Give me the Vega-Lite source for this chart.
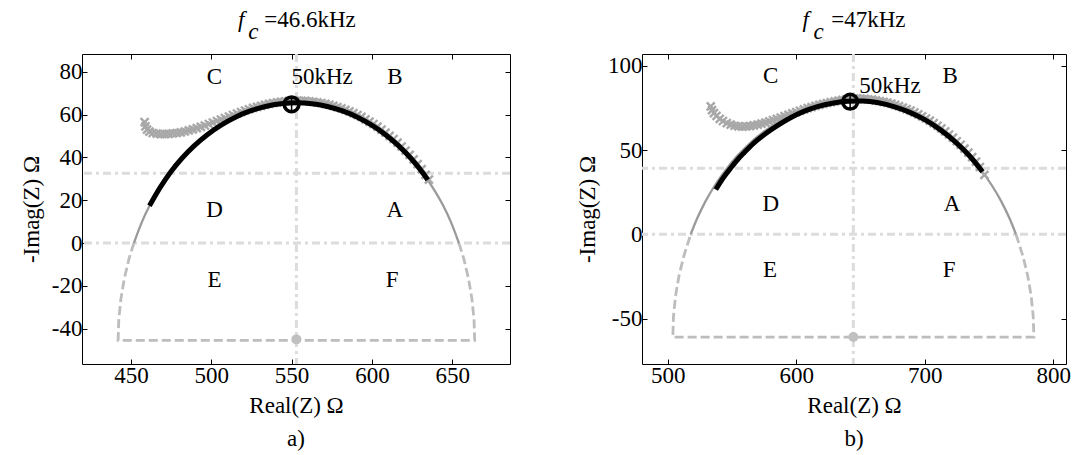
{
  "$schema": "https://vega.github.io/schema/vega-lite/v6.json",
  "padding": {"left": 19, "top": 8, "right": 5, "bottom": 5},
  "spacing": 64,
  "config": {
    "font": "Liberation Serif",
    "view": {"stroke": "black", "strokeWidth": 1},
    "axis": {"domain": false, "grid": false, "labelFont": "Liberation Serif", "labelFontSize": 23, "labelColor": "black", "titleFont": "Liberation Serif", "titleFontSize": 23, "titleFontWeight": "normal", "titleColor": "black", "tickColor": "black", "tickSize": -5, "tickWidth": 1, "labelPadding": 5},
    "title": {"font": "Liberation Serif", "fontSize": 23, "fontWeight": "normal", "color": "black", "orient": "bottom", "anchor": "middle", "frame": "group", "offset": 11},
    "text": {"font": "Liberation Serif", "fontSize": 23, "color": "black"}
  },
  "datasets": {
    "a_h": [{"y": 32.6}, {"y": 0}],
    "a_v": [{"x": 553}],
    "a_dash": [{"i":0,"x":654.2,"y":0},{"i":1,"x":657.3,"y":-7.5},{"i":2,"x":660.2,"y":-16.8},{"i":3,"x":662.3,"y":-26.2},{"i":4,"x":663.6,"y":-35.8},{"i":5,"x":664,"y":-45.5},{"i":6,"x":442,"y":-45.5},{"i":7,"x":442.4,"y":-35.8},{"i":8,"x":443.7,"y":-26.2},{"i":9,"x":445.8,"y":-16.8},{"i":10,"x":448.7,"y":-7.5},{"i":11,"x":451.8,"y":0}],
    "a_arc": [{"x":654.2,"y":0},{"x":649.1,"y":10.0},{"x":643.9,"y":18.2},{"x":638.0,"y":25.8},{"x":631.5,"y":33.0},{"x":624.4,"y":39.5},{"x":616.7,"y":45.4},{"x":608.5,"y":50.6},{"x":599.9,"y":55.1},{"x":591.0,"y":58.8},{"x":581.7,"y":61.7},{"x":572.3,"y":63.8},{"x":562.7,"y":65.1},{"x":553,"y":65.5},{"x":543.3,"y":65.1},{"x":533.7,"y":63.8},{"x":524.3,"y":61.7},{"x":515.0,"y":58.8},{"x":506.1,"y":55.1},{"x":497.5,"y":50.6},{"x":489.3,"y":45.4},{"x":481.6,"y":39.5},{"x":474.5,"y":33.0},{"x":468.0,"y":25.8},{"x":462.1,"y":18.2},{"x":456.9,"y":10.0},{"x":451.8,"y":0}],
    "a_black": [{"x":634.8,"y":29.5},{"x":631.5,"y":33.0},{"x":624.4,"y":39.5},{"x":616.7,"y":45.4},{"x":608.5,"y":50.6},{"x":599.9,"y":55.1},{"x":591.0,"y":58.8},{"x":581.7,"y":61.7},{"x":572.3,"y":63.8},{"x":562.7,"y":65.1},{"x":553,"y":65.5},{"x":543.3,"y":65.1},{"x":533.7,"y":63.8},{"x":524.3,"y":61.7},{"x":515.0,"y":58.8},{"x":506.1,"y":55.1},{"x":497.5,"y":50.6},{"x":489.3,"y":45.4},{"x":481.6,"y":39.5},{"x":474.5,"y":33.0},{"x":468.0,"y":25.8},{"x":461.5,"y":17.4}],
    "a_meas": [{"x":458.5,"y":56.5},{"x":459,"y":54.5},{"x":460,"y":53},{"x":461.5,"y":52},{"x":463.5,"y":51.4},{"x":466,"y":51.1},{"x":468.5,"y":50.9},{"x":471,"y":50.9},{"x":473.5,"y":51.0},{"x":476,"y":51.2},{"x":478.5,"y":51.4},{"x":481,"y":51.7},{"x":483.5,"y":52.1},{"x":486,"y":52.6},{"x":488.5,"y":53.1},{"x":491,"y":53.7},{"x":493.5,"y":54.3},{"x":496,"y":54.9},{"x":498.5,"y":55.6},{"x":501,"y":56.3},{"x":503.5,"y":57.0},{"x":506,"y":57.7},{"x":508.5,"y":58.4},{"x":511,"y":59.1},{"x":513.5,"y":59.8},{"x":516,"y":60.5},{"x":518.5,"y":61.2},{"x":521,"y":61.9},{"x":523.5,"y":62.5},{"x":526,"y":63.1},{"x":528.5,"y":63.6},{"x":531,"y":64.1},{"x":533.5,"y":64.6},{"x":536,"y":65.0},{"x":538.5,"y":65.4},{"x":541,"y":65.7},{"x":543.5,"y":66.0},{"x":546,"y":66.2},{"x":548.5,"y":66.4},{"x":551,"y":66.5},{"x":553.5,"y":66.5},{"x":556,"y":66.46},{"x":558.5,"y":66.36},{"x":561,"y":66.2},{"x":563.5,"y":66.0},{"x":566,"y":65.7},{"x":568.5,"y":65.4},{"x":571,"y":65.0},{"x":573.5,"y":64.6},{"x":576,"y":64.1},{"x":578.5,"y":63.5},{"x":581,"y":62.9},{"x":583.5,"y":62.2},{"x":586,"y":61.5},{"x":588.5,"y":60.7},{"x":591,"y":59.8},{"x":593.5,"y":58.9},{"x":596,"y":57.8},{"x":598.5,"y":56.7},{"x":601,"y":55.6},{"x":603.5,"y":54.4},{"x":606,"y":53.0},{"x":608.5,"y":51.6},{"x":611,"y":50.1},{"x":613.5,"y":48.6},{"x":616,"y":46.9},{"x":618.5,"y":45.1},{"x":621,"y":43.2},{"x":623.5,"y":41.2},{"x":626,"y":39.1},{"x":628.5,"y":36.9},{"x":631,"y":34.5},{"x":633.5,"y":31.9},{"x":635.5,"y":29.6}],
    "a_mk": [{"x": 550, "y": 64.8}],
    "a_ctr": [{"x": 553, "y": -45}],
    "a_lab": [{"x":502,"y":77.7,"t":"C"},{"x":569,"y":77.7,"t":"50kHz"},{"x":614.3,"y":77.7,"t":"B"},{"x":502,"y":15.5,"t":"D"},{"x":614.3,"y":15.5,"t":"A"},{"x":502,"y":-17.2,"t":"E"},{"x":612.6,"y":-17.2,"t":"F"}],
    "a_ti": [{"x":516.6,"y":101,"t":"f"},{"x":523,"y":95.5,"t":"c"}],
    "a_tt": [{"x":533,"y":101,"t":"=46.6kHz"}],
    "b_h": [{"y": 39.2}, {"y": 0}],
    "b_v": [{"x": 644.5}],
    "b_dash": [{"i":0,"x":771.1,"y":0},{"i":1,"x":776.5,"y":-13.0},{"i":2,"x":780.2,"y":-24.6},{"i":3,"x":782.9,"y":-36.6},{"i":4,"x":784.5,"y":-48.8},{"i":5,"x":785,"y":-61},{"i":6,"x":504,"y":-61},{"i":7,"x":504.5,"y":-48.8},{"i":8,"x":506.1,"y":-36.6},{"i":9,"x":508.8,"y":-24.6},{"i":10,"x":512.5,"y":-13.0},{"i":11,"x":517.9,"y":0}],
    "b_arc": [{"x":771.1,"y":0},{"x":766.2,"y":9.25},{"x":759.6,"y":19.6},{"x":752.1,"y":29.3},{"x":743.8,"y":38.3},{"x":734.8,"y":46.6},{"x":725.1,"y":54.1},{"x":714.8,"y":60.7},{"x":703.9,"y":66.3},{"x":692.5,"y":71.0},{"x":680.9,"y":74.7},{"x":668.9,"y":77.4},{"x":656.8,"y":79.0},{"x":644.5,"y":79.5},{"x":632.2,"y":79.0},{"x":620.1,"y":77.4},{"x":608.1,"y":74.7},{"x":596.5,"y":71.0},{"x":585.1,"y":66.3},{"x":574.3,"y":60.7},{"x":563.9,"y":54.1},{"x":554.2,"y":46.6},{"x":545.2,"y":38.3},{"x":536.9,"y":29.3},{"x":529.4,"y":19.6},{"x":522.8,"y":9.25},{"x":517.9,"y":0}],
    "b_black": [{"x":537.4,"y":26.6},{"x":543,"y":33.3},{"x":549,"y":39.3},{"x":554,"y":44},{"x":559.5,"y":48.5},{"x":567,"y":54.2},{"x":575,"y":59.1},{"x":585,"y":64.4},{"x":596,"y":69.4},{"x":606,"y":73},{"x":616.6,"y":75.8},{"x":628,"y":77.9},{"x":640,"y":79.1},{"x":652,"y":79.2},{"x":664,"y":78.1},{"x":676,"y":75.9},{"x":688,"y":72.6},{"x":700,"y":68.1},{"x":712,"y":62.2},{"x":724,"y":54.8},{"x":735,"y":46.5},{"x":745,"y":37.2}],
    "b_meas": [{"x":533.5,"y":76},{"x":534.5,"y":73.8},{"x":536,"y":72},{"x":538,"y":70.3},{"x":540.5,"y":68.6},{"x":543,"y":67.3},{"x":546,"y":66},{"x":549,"y":65.1},{"x":552,"y":64.5},{"x":555,"y":64.1},{"x":558,"y":64.0},{"x":561,"y":64.1},{"x":564,"y":64.3},{"x":567,"y":64.7},{"x":570,"y":65.1},{"x":573,"y":65.7},{"x":576,"y":66.4},{"x":579,"y":67.1},{"x":582,"y":67.9},{"x":585,"y":68.6},{"x":588,"y":69.4},{"x":591,"y":70.2},{"x":594,"y":71.0},{"x":597,"y":71.8},{"x":600,"y":72.6},{"x":603,"y":73.4},{"x":606,"y":74.2},{"x":609,"y":74.9},{"x":612,"y":75.6},{"x":615,"y":76.3},{"x":618,"y":76.9},{"x":621,"y":77.5},{"x":624,"y":78.0},{"x":627,"y":78.5},{"x":630,"y":79.0},{"x":633,"y":79.4},{"x":636,"y":79.8},{"x":639,"y":80.1},{"x":642,"y":80.4},{"x":645,"y":80.6},{"x":647,"y":80.7},{"x":650,"y":80.6},{"x":653,"y":80.4},{"x":656,"y":80.2},{"x":659,"y":80.0},{"x":662,"y":79.6},{"x":665,"y":79.2},{"x":668,"y":78.7},{"x":671,"y":78.2},{"x":674,"y":77.6},{"x":677,"y":76.9},{"x":680,"y":76.1},{"x":683,"y":75.3},{"x":686,"y":74.4},{"x":689,"y":73.5},{"x":692,"y":72.4},{"x":695,"y":71.3},{"x":698,"y":70.1},{"x":701,"y":68.8},{"x":704,"y":67.5},{"x":707,"y":66.0},{"x":710,"y":64.5},{"x":713,"y":62.9},{"x":716,"y":61.1},{"x":719,"y":59.3},{"x":722,"y":57.4},{"x":725,"y":55.3},{"x":728,"y":53.2},{"x":731,"y":50.9},{"x":734,"y":48.5},{"x":737,"y":45.9},{"x":740,"y":43.2},{"x":743,"y":40.0},{"x":746.5,"y":35.3}],
    "b_mk": [{"x": 642, "y": 78.8}],
    "b_ctr": [{"x": 644.5, "y": -61}],
    "b_lab": [{"x":580.2,"y":93.9,"t":"C"},{"x":719.8,"y":93.9,"t":"B"},{"x":673,"y":87.8,"t":"50kHz"},{"x":580.2,"y":17.8,"t":"D"},{"x":721.3,"y":17.8,"t":"A"},{"x":579.7,"y":-21.1,"t":"E"},{"x":719,"y":-21.1,"t":"F"}],
    "b_ti": [{"x":604.9,"y":123.2,"t":"f"},{"x":613.4,"y":116.2,"t":"c"}],
    "b_tt": [{"x":627.3,"y":123.2,"t":"=47kHz"}]
  },
  "hconcat": [
    {
      "width": 428, "height": 310,
      "title": {"text": "a)"},
      "resolve": {"axis": {"x": "independent", "y": "independent"}},
      "layer": [
        {"data": {"name": "a_h"}, "mark": {"type": "rule", "color": "#dcdcdc", "strokeWidth": 3, "strokeDash": [8, 4, 3, 4]}, "encoding": {"y": {"field": "y", "type": "quantitative", "axis": null}}},
        {"data": {"name": "a_v"}, "mark": {"type": "rule", "color": "#dcdcdc", "strokeWidth": 3, "strokeDash": [8, 4, 3, 4]}, "encoding": {"x": {"field": "x", "type": "quantitative", "axis": null}}},
        {"data": {"name": "a_dash"}, "mark": {"type": "line", "color": "#bdbdbd", "strokeWidth": 2.8, "strokeDash": [9, 4]}, "encoding": {"x": {"field": "x", "type": "quantitative", "axis": null}, "y": {"field": "y", "type": "quantitative", "axis": null}, "order": {"field": "i"}}},
        {"data": {"name": "a_arc"}, "mark": {"type": "line", "color": "#9a9a9a", "strokeWidth": 2.3, "interpolate": "monotone"},
         "encoding": {
           "x": {"field": "x", "type": "quantitative", "scale": {"domain": [419.5, 686], "nice": false, "zero": false}, "axis": {"orient": "bottom", "values": [450, 500, 550, 600, 650], "title": "Real(Z) Ω", "labelExpr": "'' + datum.value", "titlePadding": 7}},
           "y": {"field": "y", "type": "quantitative", "scale": {"domain": [-56.5, 88.3], "nice": false, "zero": false}, "axis": {"orient": "left", "values": [-40, -20, 0, 20, 40, 60, 80], "title": "-Imag(Z) Ω", "labelExpr": "'' + datum.value", "titlePadding": 8}}}},
        {"data": {"name": "a_meas"}, "mark": {"type": "point", "shape": "M-1,-1L1,1M-1,1L1,-1", "color": "#a8a8a8", "strokeWidth": 2.4, "size": 64, "opacity": 1}, "encoding": {"x": {"field": "x", "type": "quantitative", "axis": null}, "y": {"field": "y", "type": "quantitative", "axis": null}}},
        {"data": {"name": "a_black"}, "mark": {"type": "line", "color": "black", "strokeWidth": 5, "interpolate": "monotone"},
         "encoding": {
           "x": {"field": "x", "type": "quantitative", "axis": {"orient": "top", "values": [450, 500, 550, 600, 650], "labels": false, "title": null}},
           "y": {"field": "y", "type": "quantitative", "axis": {"orient": "right", "values": [-40, -20, 0, 20, 40, 60, 80], "labels": false, "title": null}}}},
        {"data": {"name": "a_mk"}, "mark": {"type": "point", "shape": "circle", "color": "black", "strokeWidth": 3.5, "size": 220, "opacity": 1}, "encoding": {"x": {"field": "x", "type": "quantitative", "axis": null}, "y": {"field": "y", "type": "quantitative", "axis": null}}},
        {"data": {"name": "a_mk"}, "mark": {"type": "point", "shape": "M-1,0L1,0M0,-1L0,1", "color": "black", "strokeWidth": 1.5, "size": 220, "opacity": 1}, "encoding": {"x": {"field": "x", "type": "quantitative", "axis": null}, "y": {"field": "y", "type": "quantitative", "axis": null}}},
        {"data": {"name": "a_ctr"}, "mark": {"type": "point", "shape": "circle", "filled": true, "color": "#c0c0c0", "size": 100, "opacity": 1}, "encoding": {"x": {"field": "x", "type": "quantitative", "axis": null}, "y": {"field": "y", "type": "quantitative", "axis": null}}},
        {"data": {"name": "a_lab"}, "mark": {"type": "text", "align": "center", "baseline": "middle"}, "encoding": {"x": {"field": "x", "type": "quantitative", "axis": null}, "y": {"field": "y", "type": "quantitative", "axis": null}, "text": {"field": "t"}}},
        {"data": {"name": "a_ti"}, "mark": {"type": "text", "align": "left", "baseline": "alphabetic", "fontStyle": "italic"}, "encoding": {"x": {"field": "x", "type": "quantitative", "axis": null}, "y": {"field": "y", "type": "quantitative", "axis": null}, "text": {"field": "t"}}},
        {"data": {"name": "a_tt"}, "mark": {"type": "text", "align": "left", "baseline": "alphabetic"}, "encoding": {"x": {"field": "x", "type": "quantitative", "axis": null}, "y": {"field": "y", "type": "quantitative", "axis": null}, "text": {"field": "t"}}}
      ]
    },
    {
      "width": 424, "height": 310,
      "title": {"text": "b)"},
      "resolve": {"axis": {"x": "independent", "y": "independent"}},
      "layer": [
        {"data": {"name": "b_h"}, "mark": {"type": "rule", "color": "#dcdcdc", "strokeWidth": 3, "strokeDash": [8, 4, 3, 4]}, "encoding": {"y": {"field": "y", "type": "quantitative", "axis": null}}},
        {"data": {"name": "b_v"}, "mark": {"type": "rule", "color": "#dcdcdc", "strokeWidth": 3, "strokeDash": [8, 4, 3, 4]}, "encoding": {"x": {"field": "x", "type": "quantitative", "axis": null}}},
        {"data": {"name": "b_dash"}, "mark": {"type": "line", "color": "#bdbdbd", "strokeWidth": 2.8, "strokeDash": [9, 4]}, "encoding": {"x": {"field": "x", "type": "quantitative", "axis": null}, "y": {"field": "y", "type": "quantitative", "axis": null}, "order": {"field": "i"}}},
        {"data": {"name": "b_arc"}, "mark": {"type": "line", "color": "#9a9a9a", "strokeWidth": 2.3, "interpolate": "monotone"},
         "encoding": {
           "x": {"field": "x", "type": "quantitative", "scale": {"domain": [480, 810], "nice": false, "zero": false}, "axis": {"orient": "bottom", "values": [500, 600, 700, 800], "title": "Real(Z) Ω", "labelExpr": "'' + datum.value", "titlePadding": 7}},
           "y": {"field": "y", "type": "quantitative", "scale": {"domain": [-77, 107.1], "nice": false, "zero": false}, "axis": {"orient": "left", "values": [-50, 0, 50, 100], "title": "-Imag(Z) Ω", "labelExpr": "'' + datum.value", "titlePadding": 8}}}},
        {"data": {"name": "b_meas"}, "mark": {"type": "point", "shape": "M-1,-1L1,1M-1,1L1,-1", "color": "#a8a8a8", "strokeWidth": 2.4, "size": 64, "opacity": 1}, "encoding": {"x": {"field": "x", "type": "quantitative", "axis": null}, "y": {"field": "y", "type": "quantitative", "axis": null}}},
        {"data": {"name": "b_black"}, "mark": {"type": "line", "color": "black", "strokeWidth": 5, "interpolate": "monotone"},
         "encoding": {
           "x": {"field": "x", "type": "quantitative", "axis": {"orient": "top", "values": [500, 600, 700, 800], "labels": false, "title": null}},
           "y": {"field": "y", "type": "quantitative", "axis": {"orient": "right", "values": [-50, 0, 50, 100], "labels": false, "title": null}}}},
        {"data": {"name": "b_mk"}, "mark": {"type": "point", "shape": "circle", "color": "black", "strokeWidth": 3.5, "size": 220, "opacity": 1}, "encoding": {"x": {"field": "x", "type": "quantitative", "axis": null}, "y": {"field": "y", "type": "quantitative", "axis": null}}},
        {"data": {"name": "b_mk"}, "mark": {"type": "point", "shape": "M-1,0L1,0M0,-1L0,1", "color": "black", "strokeWidth": 1.5, "size": 220, "opacity": 1}, "encoding": {"x": {"field": "x", "type": "quantitative", "axis": null}, "y": {"field": "y", "type": "quantitative", "axis": null}}},
        {"data": {"name": "b_ctr"}, "mark": {"type": "point", "shape": "circle", "filled": true, "color": "#c0c0c0", "size": 100, "opacity": 1}, "encoding": {"x": {"field": "x", "type": "quantitative", "axis": null}, "y": {"field": "y", "type": "quantitative", "axis": null}}},
        {"data": {"name": "b_lab"}, "mark": {"type": "text", "align": "center", "baseline": "middle"}, "encoding": {"x": {"field": "x", "type": "quantitative", "axis": null}, "y": {"field": "y", "type": "quantitative", "axis": null}, "text": {"field": "t"}}},
        {"data": {"name": "b_ti"}, "mark": {"type": "text", "align": "left", "baseline": "alphabetic", "fontStyle": "italic"}, "encoding": {"x": {"field": "x", "type": "quantitative", "axis": null}, "y": {"field": "y", "type": "quantitative", "axis": null}, "text": {"field": "t"}}},
        {"data": {"name": "b_tt"}, "mark": {"type": "text", "align": "left", "baseline": "alphabetic"}, "encoding": {"x": {"field": "x", "type": "quantitative", "axis": null}, "y": {"field": "y", "type": "quantitative", "axis": null}, "text": {"field": "t"}}}
      ]
    }
  ]
}
